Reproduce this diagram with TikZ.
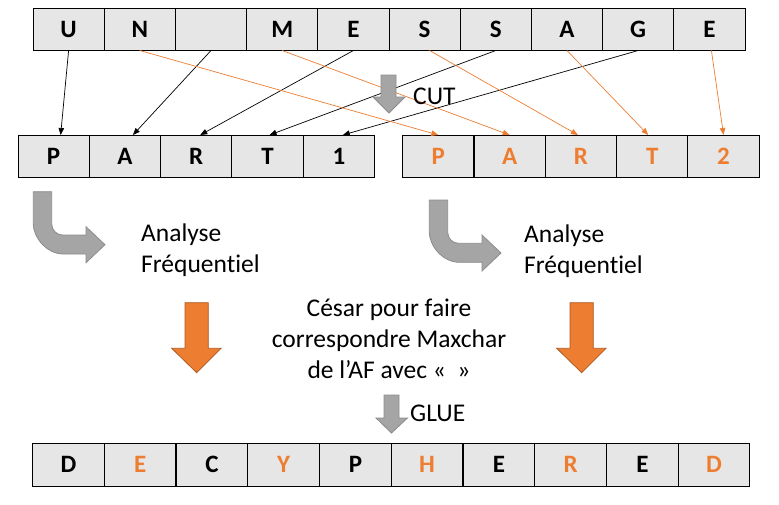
\documentclass[tikz,border=0pt]{standalone}
\usepackage{fontspec}
\setmainfont[Ligatures=NoCommon]{Carlito}
\usetikzlibrary{arrows.meta, positioning}
\definecolor{cellgray}{HTML}{E7E6E6}
\definecolor{orng}{HTML}{ED7D31}
\definecolor{orngdark}{HTML}{AE5A21}
\definecolor{arrowgray}{HTML}{A5A5A5}
\definecolor{arrowgraydark}{HTML}{8C8C8C}
\begin{document}
\begin{tikzpicture}[x=1pt, y=-1pt,
	cell/.style={draw, fill=cellgray, line width=1pt, minimum width=71.2pt, minimum height=42pt, inner sep=0pt, font=\bfseries\fontsize{25}{25}\selectfont},
	link/.style={-{Triangle[length=7pt,width=5.5pt]}, line width=0.7pt},
	blockgray/.style={fill=arrowgray, draw=arrowgraydark, line width=0.8pt},
	blockorange/.style={fill=orng, draw=orngdark, line width=0.8pt},
	txt/.style={inner sep=0pt, font=\fontsize{25.5}{31}\selectfont}]
			\useasboundingbox (0,0) rectangle (779,504);

			% Draw the message
			\node[cell] (m1) at (68.6,29) {U};
			\node[cell] (m2) at (139.8,29) {N};
			\node[cell] (m3) at (211,29) {};
			\node[cell] (m4) at (282.2,29) {M};
			\node[cell] (m5) at (353.4,29) {E};
			\node[cell] (m6) at (424.6,29) {S};
			\node[cell] (m7) at (495.8,29) {S};
			\node[cell] (m8) at (567,29) {A};
			\node[cell] (m9) at (638.2,29) {G};
			\node[cell] (m10) at (709.4,29) {E};

			% Draw the two parts
			\node[cell] (a1) at (53.65,156.5) {P};
			\node[cell] (a2) at (124.95,156.5) {A};
			\node[cell] (a3) at (196.25,156.5) {R};
			\node[cell] (a4) at (267.55,156.5) {T};
			\node[cell] (a5) at (338.85,156.5) {1};

			\node[cell, text=orng] (b1) at (438.35,156.5) {P};
			\node[cell, text=orng] (b2) at (509.65,156.5) {A};
			\node[cell, text=orng] (b3) at (580.95,156.5) {R};
			\node[cell, text=orng] (b4) at (652.25,156.5) {T};
			\node[cell, text=orng] (b5) at (723.55,156.5) {2};

			% Draw the links from the message to the parts
			\draw[link] (m1.south) -- ([xshift=7pt]a1.north);
			\draw[link] (m3.south) -- ([xshift=8pt]a2.north);
			\draw[link] (m5.south) -- ([xshift=4pt]a3.north);
			\draw[link] (m7.south) -- ([xshift=2pt]a4.north);
			\draw[link] (m9.south) -- ([xshift=4pt]a5.north);

			\draw[link, orng] (m2.south) -- (b1.north);
			\draw[link, orng] (m4.south) -- (b2.north);
			\draw[link, orng] ([xshift=5pt]m6.south) -- ([xshift=-3pt]b3.north);
			\draw[link, orng] (m8.south) -- ([xshift=-4pt]b4.north);
			\draw[link, orng] ([xshift=2pt]m10.south) -- (b5.north);

			% CUT
			\draw[blockgray] (381,75) -- (396,75) -- (396,97) -- (405,97) -- (389,113) -- (373,97) -- (381,97) -- cycle;
			\node[txt, anchor=west] (cut) at (413,96.5) {CUT};

			% Turn arrows
			\draw[blockgray] (33.3,191.7) -- (51.7,191.7) -- (51.7,224) .. controls (51.7,230.1) and (56.6,235) .. (62.7,235) -- (86,235) -- (86,226.7) -- (105,244.7) -- (86,262.7) -- (86,254) -- (63.3,254) .. controls (46.7,254) and (33.3,237.4) .. (33.3,224) -- cycle;
			\draw[blockgray] (33.3+396,191.7+8.3) -- (51.7+396,191.7+8.3) -- (51.7+396,224+8.3) .. controls (51.7+396,230.1+8.3) and (56.6+396,235+8.3) .. (62.7+396,235+8.3) -- (86+396,235+8.3) -- (86+396,226.7+8.3) -- (105+396,244.7+8.3) -- (86+396,262.7+8.3) -- (86+396,254+8.3) -- (63.3+396,254+8.3) .. controls (46.7+396,254+8.3) and (33.3+396,237.4+8.3) .. (33.3+396,224+8.3) -- cycle;

			\node[txt, align=left, anchor=west] (af1) at (141,250) {Analyse\\Fréquentiel};
			\node[txt, align=left, anchor=west] (af2) at (524,251) {Analyse\\Fréquentiel};

			% Caesar step
			\draw[blockorange] (185,302.7) -- (208.3,302.7) -- (208.3,348.3) -- (221,348.3) -- (196.7,372.7) -- (171.7,348.3) -- (185,348.3) -- cycle;
			\draw[blockorange] (185+385,302.7) -- (208.3+385,302.7) -- (208.3+385,348.3) -- (221+385,348.3) -- (196.7+385,372.7) -- (171.7+385,348.3) -- (185+385,348.3) -- cycle;

			\node[txt, align=center] (cesar) at (389,339) {César pour faire\\correspondre Maxchar\\de l’AF avec «\ \ »};

			% GLUE
			\draw[blockgray] (384,395) -- (399,395) -- (399,418) -- (407.5,418) -- (391.5,433) -- (376,418) -- (384,418) -- cycle;
			\node[txt, anchor=west] (glue) at (410,413) {GLUE};

			% Draw the deciphered message
			\node[cell, minimum width=71.75pt, minimum height=43pt] (d1) at (68.4,464.5) {D};
			\node[cell, minimum width=71.75pt, minimum height=43pt, text=orng] (d2) at (140.1,464.5) {E};
			\node[cell, minimum width=71.75pt, minimum height=43pt] (d3) at (211.9,464.5) {C};
			\node[cell, minimum width=71.75pt, minimum height=43pt, text=orng] (d4) at (283.6,464.5) {Y};
			\node[cell, minimum width=71.75pt, minimum height=43pt] (d5) at (355.4,464.5) {P};
			\node[cell, minimum width=71.75pt, minimum height=43pt, text=orng] (d6) at (427.1,464.5) {H};
			\node[cell, minimum width=71.75pt, minimum height=43pt] (d7) at (498.9,464.5) {E};
			\node[cell, minimum width=71.75pt, minimum height=43pt, text=orng] (d8) at (570.6,464.5) {R};
			\node[cell, minimum width=71.75pt, minimum height=43pt] (d9) at (642.4,464.5) {E};
			\node[cell, minimum width=71.75pt, minimum height=43pt, text=orng] (d10) at (714.1,464.5) {D};

		\end{tikzpicture}
\end{document}
